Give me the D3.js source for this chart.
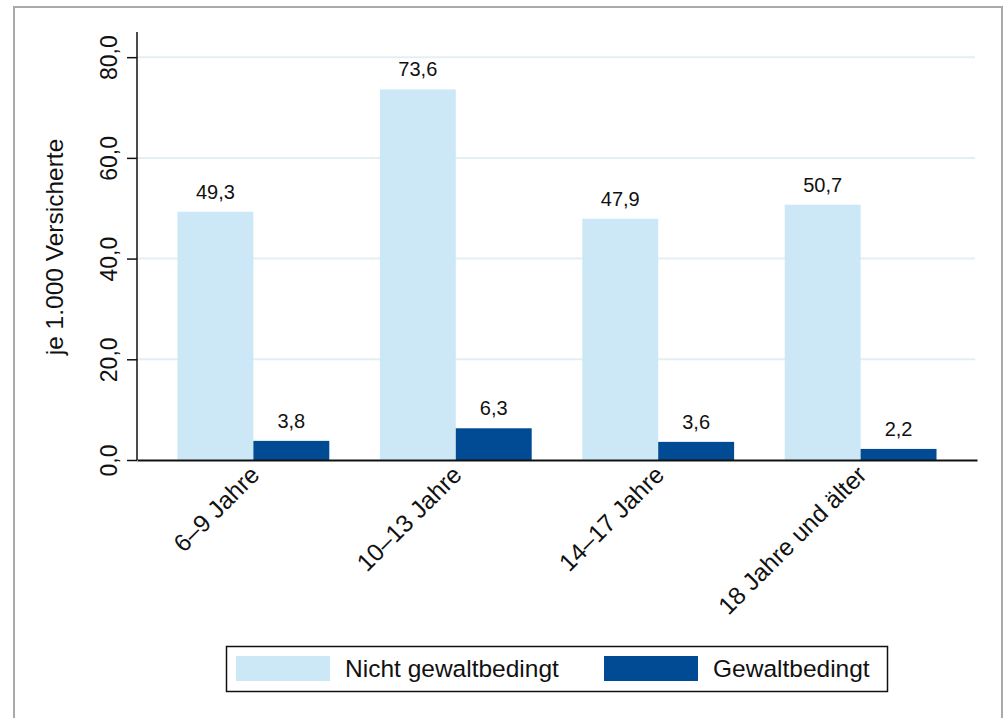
<!DOCTYPE html>
<html>
<head>
<meta charset="utf-8">
<script src="https://cdn.jsdelivr.net/npm/d3@7"></script>
<style>
  body { margin: 0; background: #fff; }
  svg text { font-family: Helvetica, Arial, "Liberation Sans", sans-serif; fill: #111; }
</style>
</head>
<body>
<script>
// data
const categories = ["6\u20139 Jahre", "10\u201313 Jahre", "14\u201317 Jahre", "18 Jahre und \u00e4lter"];
const seriesNames = ["Nicht gewaltbedingt", "Gewaltbedingt"];
const nichtGewalt = [49.3, 73.6, 47.9, 50.7];
const gewalt = [3.8, 6.3, 3.6, 2.2];
const yTicks = [0, 20, 40, 60, 80];
const colors = ["#cce8f6", "#004b93"];

const W = 1006, H = 718;
const plot = {left: 137, right: 977, top: 32, bottom: 460};

const fmt = v => d3.format(".1f")(v).replace(".", ",");

const svg = d3.select("body").append("svg")
  .attr("width", W)
  .attr("height", H);

// outer frame
svg.append("rect")
  .attr("x", 14).attr("y", 7)
  .attr("width", 988).attr("height", 730)
  .attr("fill", "none")
  .attr("stroke", "#a9a9a9")
  .attr("stroke-width", 2);

const x = d3.scaleBand()
  .domain(categories)
  .range([plot.left, plot.right])
  .paddingInner(0.25)
  .paddingOuter(0.2);

const x1 = d3.scaleBand()
  .domain(seriesNames)
  .range([0, x.bandwidth()]);

const y = d3.scaleLinear()
  .domain([0, 85])
  .range([plot.bottom, plot.top]);

// gridlines
svg.append("g")
  .selectAll("line")
  .data(yTicks.filter(d => d > 0))
  .enter().append("line")
  .attr("x1", plot.left)
  .attr("x2", plot.right - 2)
  .attr("y1", d => y(d))
  .attr("y2", d => y(d))
  .attr("stroke", "#e4eff3")
  .attr("stroke-width", 2);

// bars
const rows = categories.map((c, i) => ({cat: c, vals: [nichtGewalt[i], gewalt[i]]}));

const groups = svg.append("g")
  .selectAll("g")
  .data(rows)
  .enter().append("g")
  .attr("transform", d => `translate(${x(d.cat)},0)`);

groups.selectAll("rect")
  .data(d => d.vals.map((v, j) => ({name: seriesNames[j], v: v, j: j})))
  .enter().append("rect")
  .attr("x", d => x1(d.name))
  .attr("y", d => y(d.v))
  .attr("width", x1.bandwidth())
  .attr("height", d => y(0) - y(d.v))
  .attr("fill", d => colors[d.j]);

groups.selectAll("text")
  .data(d => d.vals.map((v, j) => ({name: seriesNames[j], v: v})))
  .enter().append("text")
  .attr("x", d => x1(d.name) + x1.bandwidth() / 2)
  .attr("y", d => y(d.v) - 13)
  .attr("text-anchor", "middle")
  .style("font-size", "20px")
  .text(d => fmt(d.v));

// y axis
const yAxis = svg.append("g")
  .attr("transform", `translate(${plot.left},0)`)
  .call(d3.axisLeft(y).tickValues(yTicks).tickSize(10).tickFormat(fmt));
yAxis.select(".domain").attr("stroke", "#111").attr("stroke-width", 1.5).attr("d", `M0,${plot.top}V${plot.bottom}`);
yAxis.selectAll(".tick line").attr("stroke", "#111").attr("stroke-width", 1.5);
yAxis.selectAll(".tick text")
  .attr("x", null).attr("dy", null)
  .attr("transform", "translate(-20,0) rotate(-90)")
  .attr("text-anchor", "middle")
  .style("font-size", "23px");

svg.append("text")
  .attr("transform", `translate(63,${(plot.top + plot.bottom) / 2 + 1}) rotate(-90)`)
  .attr("text-anchor", "middle")
  .style("font-size", "24.5px")
  .text("je 1.000 Versicherte");

// x axis
const xAxis = svg.append("g")
  .attr("transform", `translate(0,${plot.bottom})`)
  .call(d3.axisBottom(x).tickSize(0).tickSizeOuter(0));
xAxis.select(".domain").attr("stroke", "#111").attr("stroke-width", 2);
xAxis.selectAll(".tick text")
  .attr("y", null).attr("dy", null)
  .attr("transform", "translate(-5,4) rotate(-45)")
  .attr("text-anchor", "end")
  .attr("dominant-baseline", "hanging")
  .style("font-size", "24.5px");

// legend
const legend = svg.append("g");
legend.append("rect")
  .attr("x", 226.5).attr("y", 646.5)
  .attr("width", 661).attr("height", 45)
  .attr("fill", "#fff")
  .attr("stroke", "#111")
  .attr("stroke-width", 1.5);

const legendX = [236, 604];
const items = legend.selectAll("g.item")
  .data(seriesNames)
  .enter().append("g")
  .attr("class", "item")
  .attr("transform", (d, i) => `translate(${legendX[i]},656)`);
items.append("rect")
  .attr("width", 94).attr("height", 25)
  .attr("fill", (d, i) => colors[i]);
items.append("text")
  .attr("x", 109).attr("y", 20.5)
  .style("font-size", "24.5px")
  .text(d => d);
</script>
</body>
</html>
